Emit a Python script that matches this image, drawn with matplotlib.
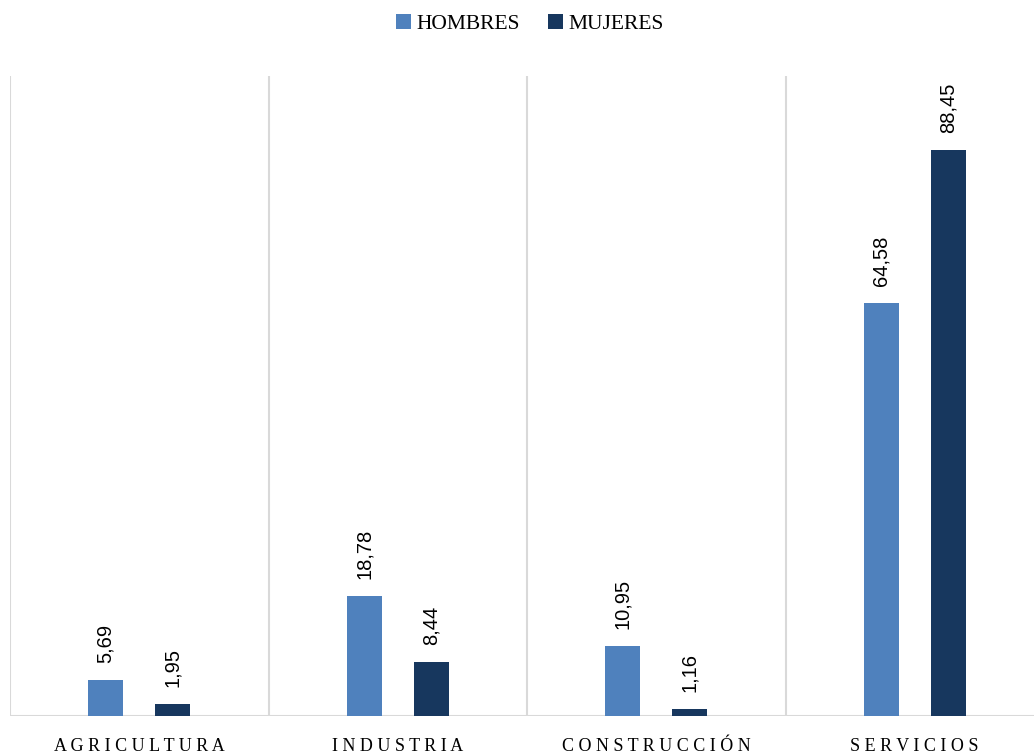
import numpy as np
import matplotlib.pyplot as plt

categories = ['AGRICULTURA', 'INDUSTRIA', 'CONSTRUCCIÓN', 'SERVICIOS']
hombres = [5.69, 18.78, 10.95, 64.58]
mujeres = [1.95, 8.44, 1.16, 88.45]

c_hombres = '#4F81BD'
c_mujeres = '#17375E'

fig = plt.figure(figsize=(10.34, 7.55), dpi=100)
# plot area runs a little past the right edge of the figure
ax = fig.add_axes([10 / 1034, 39 / 755, 1034 / 1034, 640 / 755])

x = np.arange(len(categories))
w = 35 / 258.5
off = 33.5 / 258.5
b1 = ax.bar(x - off, hombres, w, color=c_hombres, label='HOMBRES', zorder=3)
b2 = ax.bar(x + off, mujeres, w, color=c_mujeres, label='MUJERES', zorder=3)

for bars, vals in ((b1, hombres), (b2, mujeres)):
    for rect, v in zip(bars, vals):
        ax.annotate(f'{v:.2f}'.replace('.', ','),
                    (rect.get_x() + rect.get_width() / 2, v),
                    xytext=(0, 12), textcoords='offset points',
                    rotation=90, ha='center', va='bottom',
                    fontsize=14.5, family='Liberation Sans', color='#000000')

ax.set_xlim(-0.5, len(categories) - 0.5)
ax.set_ylim(0, 100)

# separators between categories
for xs in np.arange(len(categories) + 1) - 0.5:
    ax.axvline(xs, color='#D9D9D9', lw=1.5, zorder=1)
ax.axhline(0, color='#D9D9D9', lw=1.5, zorder=2)

for s in ax.spines.values():
    s.set_visible(False)
ax.set_yticks([])
ax.set_xticks(x)
ax.set_xticklabels([' '.join(c) for c in categories], family='Liberation Serif',
                   fontsize=13)
ax.tick_params(axis='x', length=0, pad=16)

fig.legend(loc='center', bbox_to_anchor=(530 / 1034, 1 - 24 / 755), ncol=2,
           frameon=False, prop={'family': 'Liberation Serif', 'size': 15.5},
           handlelength=0.7, handleheight=0.7, handletextpad=0.25,
           columnspacing=1.3)

fig.savefig('out.png', dpi=100)
